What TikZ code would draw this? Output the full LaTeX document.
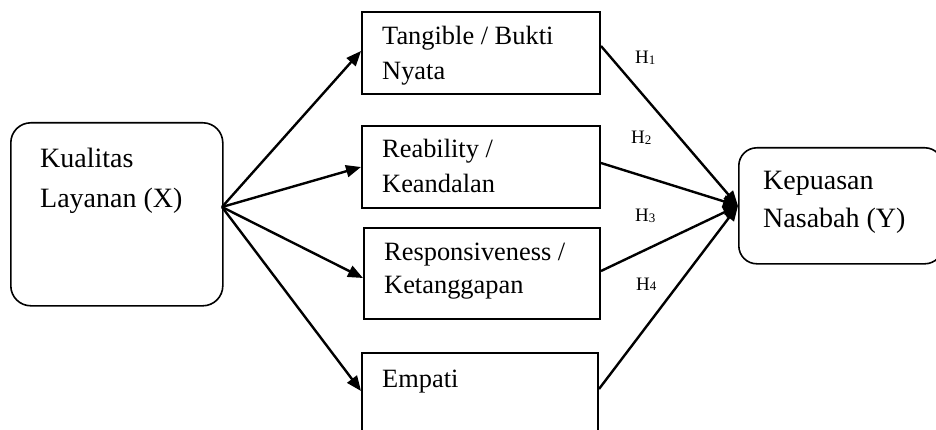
\documentclass[tikz,border=0pt]{standalone}
\usepackage{fontspec}
\setmainfont{Liberation Serif}
\usetikzlibrary{arrows.meta,positioning}

\newcommand{\hyp}[1]{H\raisebox{-0.5pt}{\fontsize{13}{13}\selectfont #1}}

\begin{document}
\begin{tikzpicture}[x=1pt,y=-1pt,
  faktor/.style={draw,line width=2pt,anchor=north west,inner sep=0pt},
  varbox/.style={draw,line width=1.6pt,rounded corners=20pt,anchor=north west,inner sep=0pt},
  isi/.style={anchor=base west,align=left,inner sep=0pt,font=\fontsize{26.4}{35}\selectfont},
  panah/.style={line width=2.4pt,-{Triangle[length=15pt,width=12pt]}},
  hlabel/.style={anchor=base west,inner sep=0pt,font=\fontsize{19}{19}\selectfont}]

\useasboundingbox (0,0) rectangle (936,430);
\clip (0,0) rectangle (936,430);

% kotak
\node[varbox,minimum width=212pt,minimum height=183pt] (kl) at (10,122) {};
\node[faktor,minimum width=238pt,minimum height=82pt] (tb) at (361,11) {};
\node[faktor,minimum width=238pt,minimum height=82pt] (rb) at (361,125) {};
\node[faktor,minimum width=236pt,minimum height=91pt] (rs) at (363,227) {};
\node[faktor,minimum width=236pt,minimum height=90pt] (em) at (361,352) {};
\node[varbox,rounded corners=18pt,minimum width=204pt,minimum height=116pt] (kn) at (738,147) {};

% teks (base = baris terakhir)
\node[isi,font=\fontsize{28}{40}\selectfont] (tkl) at (40,208) {Kualitas\\Layanan (X)};
\node[isi] (ttb) at (382,80) {Tangible / Bukti\\Nyata};
\node[isi] (trb) at (382,193) {Reability /\\Keandalan};
\node[isi,font=\fontsize{26.4}{33}\selectfont] (trs) at (384,293) {Responsiveness /\\Ketanggapan};
\node[isi] (tem) at (382,387) {Empati};
\node[isi,font=\fontsize{28}{38}\selectfont] (tkn) at (763,228) {Kepuasan\\Nasabah (Y)};

% panah
\coordinate (src) at (222,207);
\draw[panah] (src) -- ([yshift=2pt]tb.west);
\draw[panah] (src) -- (rb.west);
\draw[panah] (src) -- ([yshift=-4.5pt]rs.west);
\draw[panah] (src) -- ([yshift=7pt]em.west);

\draw[panah] ([yshift=7pt]tb.east) -- (kn.west);
\draw[panah] ([yshift=4pt]rb.east) -- (kn.west);
\draw[panah] ([yshift=2.5pt]rs.east) -- (kn.west);
\draw[panah] ([yshift=9pt]em.east) -- (kn.west);

% hipotesis
\node[hlabel] (h1) at (635,64) {\hyp{1}};
\node[hlabel] (h2) at (631,144) {\hyp{2}};
\node[hlabel] (h3) at (635,222) {\hyp{3}};
\node[hlabel] (h4) at (636,290) {\hyp{4}};
\end{tikzpicture}
\end{document}
